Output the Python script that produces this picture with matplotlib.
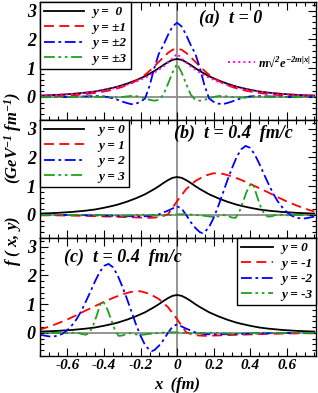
import numpy as np
import matplotlib
matplotlib.use("Agg")
import matplotlib.pyplot as plt
from matplotlib.ticker import MultipleLocator

plt.rcParams['font.family'] = ['Liberation Serif', 'DejaVu Serif']
plt.rcParams['font.style'] = 'italic'
plt.rcParams['font.weight'] = 'bold'
plt.rcParams['mathtext.fontset'] = 'custom'
plt.rcParams['mathtext.rm'] = 'Liberation Serif:italic:bold'
plt.rcParams['mathtext.it'] = 'Liberation Serif:italic:bold'
plt.rcParams['mathtext.bf'] = 'Liberation Serif:italic:bold'

# ---- panel (a), t = 0 : curves are even in x, values for x >= 0 ----
x_half = [0, 0.025, 0.05, 0.075, 0.1, 0.125, 0.15, 0.175, 0.2, 0.225, 0.25,
          0.275, 0.3, 0.325, 0.35, 0.375, 0.4, 0.425, 0.45, 0.475, 0.5,
          0.525, 0.55, 0.575, 0.6, 0.625, 0.65, 0.675, 0.7, 0.725, 0.75]
y0_half = [1.32, 1.29, 1.21, 1.11, 1.00, 0.90, 0.81, 0.72, 0.65, 0.58, 0.52,
           0.46, 0.41, 0.36, 0.32, 0.285, 0.25, 0.22, 0.19, 0.17, 0.15,
           0.135, 0.12, 0.105, 0.095, 0.085, 0.075, 0.068, 0.06, 0.055, 0.05]
y1_half = [1.68, 1.64, 1.53, 1.38, 1.22, 1.06, 0.91, 0.77, 0.65, 0.56, 0.48,
           0.41, 0.35, 0.30, 0.26, 0.22, 0.19, 0.165, 0.14, 0.12, 0.10,
           0.085, 0.07, 0.06, 0.05, 0.04, 0.035, 0.03, 0.025, 0.02, 0.018]
y2_half = [2.58, 2.45, 2.15, 1.80, 1.50, 1.00, 0.40, -0.05, -0.17, -0.23, -0.25,
           -0.21, -0.16, -0.10, -0.05, -0.01, 0.02, 0.03, 0.03, 0.025, 0.02,
           0.015, 0.01, 0.005, 0.0, -0.005, -0.005, 0.0, 0.0, 0.0, 0.0]
y3_half = [1.15, 0.85, 0.45, 0.08, -0.10, -0.13, -0.10, -0.05, 0.0, 0.03, 0.035,
           0.02, 0.0, -0.015, -0.02, -0.015, -0.005, 0.005, 0.01, 0.008, 0.0,
           -0.005, -0.005, 0.0, 0.0, 0.0, 0.0, 0.0, 0.0, 0.0, 0.0]
exp_half = [1.50, 1.34, 1.19, 1.06, 0.95, 0.84, 0.75, 0.67, 0.60, 0.53, 0.475,
            0.42, 0.38, 0.34, 0.30, 0.27, 0.24, 0.213, 0.19, 0.17, 0.15,
            0.134, 0.12, 0.107, 0.095, 0.085, 0.076, 0.067, 0.06, 0.053, 0.048]

# ---- panel (b), t = 0.4 fm/c, y = 1, 2, 3 (panel (c) is its mirror x -> -x) ----
xb_red = [-0.75, -0.7, -0.65, -0.6, -0.55, -0.5, -0.45, -0.4, -0.35, -0.3, -0.25,
          -0.2, -0.15, -0.1, -0.05, 0.0, 0.05, 0.1, 0.15, 0.2, 0.25, 0.3, 0.35,
          0.4, 0.45, 0.5, 0.55, 0.6, 0.65, 0.7, 0.75]
b_red = [-0.01, -0.01, -0.015, -0.02, -0.025, -0.03, -0.04, -0.05, -0.06, -0.07, -0.08,
         -0.09, -0.10, -0.08, 0.02, 0.48, 0.90, 1.18, 1.36, 1.45, 1.43, 1.34, 1.22,
         1.08, 0.93, 0.78, 0.62, 0.47, 0.34, 0.22, 0.12]
xb_blue = [-0.75, -0.6, -0.5, -0.4, -0.3, -0.2, -0.15, -0.1, -0.05, 0.0, 0.025,
           0.05, 0.075, 0.1, 0.125, 0.14, 0.15, 0.175, 0.2, 0.225, 0.25, 0.275,
           0.3, 0.325, 0.35, 0.375, 0.4, 0.425, 0.45, 0.475, 0.5, 0.525, 0.55,
           0.575, 0.6, 0.625, 0.65, 0.675, 0.7, 0.725, 0.75]
b_blue = [0.0, 0.0, -0.01, -0.02, -0.04, -0.05, -0.04, 0.02, 0.15, 0.30, 0.22,
          0.0, -0.25, -0.45, -0.60, -0.63, -0.60, -0.42, -0.10, 0.30, 0.75, 1.20,
          1.62, 2.00, 2.28, 2.40, 2.33, 2.10, 1.78, 1.42, 1.08, 0.75, 0.48,
          0.27, 0.10, -0.02, -0.09, -0.12, -0.12, -0.09, -0.06]
xb_green = [-0.75, -0.6, -0.5, -0.4, -0.35, -0.3, -0.25, -0.2, -0.15, -0.1, -0.05,
            0.0, 0.05, 0.1, 0.15, 0.2, 0.225, 0.25, 0.275, 0.3, 0.32, 0.34, 0.36,
            0.38, 0.4, 0.41, 0.42, 0.44, 0.46, 0.48, 0.5, 0.52, 0.55, 0.6, 0.65,
            0.7, 0.75]
b_green = [0.0, 0.0, 0.01, 0.0, -0.02, -0.03, -0.01, 0.01, 0.0, -0.02, -0.01,
           0.02, 0.03, 0.0, -0.03, -0.07, -0.05, 0.0, -0.03, -0.09, -0.10, 0.10, 0.45,
           0.80, 1.05, 1.10, 1.00, 0.60, 0.25, 0.0, -0.06, -0.04, 0.02, -0.01, 0.0,
           0.0, 0.0]

legend_a = ['y =  0', 'y = \u00b11', 'y = \u00b12', 'y = \u00b13']
legend_b = ['y = 0', 'y = 1', 'y = 2', 'y = 3']
legend_c = ['y = 0', 'y = -1', 'y = -2', 'y = -3']

colors = ['black', '#ff0000', '#0000ff', '#1fa01f']
styles = ['-', (0, (5.5, 3)), (0, (6, 2, 1.5, 2)), (0, (6, 2, 1.5, 2, 1.5, 2))]
lw = 1.3

xh = np.array(x_half)
def sym(v):
    v = np.array(v)
    return np.concatenate([v[:0:-1], v])
x_a = np.concatenate([-xh[:0:-1], xh])

W, H = 318, 393
fig = plt.figure(figsize=(W / 100, H / 100), dpi=100)
left, right = 40 / W, 316 / W
ph = 118 / H
axes = [fig.add_axes([left, 1 - (2 + 118 * (i + 1)) / H, right - left, ph]) for i in range(3)]

for ax in axes:
    ax.set_xlim(-0.75, 0.76)
    ax.set_ylim(-0.8, 3.3)
    ax.axvline(0, color='#8c8c8c', lw=1.3, zorder=0)
    ax.axhline(0, color='#8c8c8c', lw=1.3, zorder=0)
    ax.xaxis.set_major_locator(MultipleLocator(0.2))
    ax.xaxis.set_minor_locator(MultipleLocator(0.05))
    ax.yaxis.set_major_locator(MultipleLocator(1))
    ax.yaxis.set_minor_locator(MultipleLocator(0.2))
    ax.tick_params(which='both', direction='in', top=True, right=True, width=0.8)
    ax.tick_params(which='major', length=6)
    ax.tick_params(which='minor', length=3)
    ax.tick_params(axis='y', labelsize=13, pad=3)
    ax.tick_params(axis='x', labelsize=11, pad=2)
    for s in ax.spines.values():
        s.set_linewidth(1.0)
    ax.set_yticks([0, 1, 2, 3])
    ax.set_yticklabels(['0', '1', '2', '3'])

axes[0].tick_params(labelbottom=False)
axes[1].tick_params(labelbottom=False)
axes[2].set_xticks([-0.6, -0.4, -0.2, 0, 0.2, 0.4, 0.6])
axes[2].set_xticklabels(['-0.6', '-0.4', '-0.2', '0', '0.2', '0.4', '0.6'])

leg_kw = dict(borderaxespad=0, fontsize=9.5, fancybox=False, edgecolor='black',
              framealpha=1, labelspacing=0.25, borderpad=0.3)

# panel (a)
ax = axes[0]
curves_a = [y0_half, y1_half, y2_half, y3_half]
handles = []
for c, ls, vals, lab in zip(colors, styles, curves_a, legend_a):
    h, = ax.plot(x_a, sym(vals), color=c, ls=ls, lw=lw, label=lab)
    handles.append(h)
hm, = ax.plot(x_a, sym(exp_half), color='#ff00ff', ls=':', lw=1.4,
              label='m\u221a$^{2}$e$^{-2m|x|}$')
leg = ax.legend(handles=handles, loc='upper left', handlelength=3.0,
                handletextpad=0.7, **leg_kw)
leg.get_frame().set_linewidth(1.0)
ax.add_artist(leg)
ax.legend(handles=[hm], loc='center right', bbox_to_anchor=(1.0, 0.49), frameon=False,
          fontsize=9, handlelength=2.2, handletextpad=0.2, borderaxespad=0)
ax.text(0.69, 0.865, '(a)  t = 0', transform=ax.transAxes, ha='center', va='center', fontsize=13)

# panel (b)
ax = axes[1]
x_black = x_a
y_black = sym(y0_half)
handles = []
for c, ls, xs, vals, lab in zip(colors, styles, [x_black, xb_red, xb_blue, xb_green],
                                [y_black, b_red, b_blue, b_green], legend_b):
    h, = ax.plot(xs, vals, color=c, ls=ls, lw=lw, label=lab)
    handles.append(h)
leg = ax.legend(handles=handles, loc='upper left', handlelength=3.0,
                handletextpad=1.1, **leg_kw)
leg.get_frame().set_linewidth(1.0)
ax.text(0.7, 0.89, '(b)  t = 0.4  fm/c', transform=ax.transAxes, ha='center', va='center', fontsize=13)

# panel (c)
ax = axes[2]
handles = []
for c, ls, xs, vals, lab in zip(colors, styles, [x_black, xb_red, xb_blue, xb_green],
                                [y_black, b_red, b_blue, b_green], legend_c):
    h, = ax.plot(-np.array(xs), vals, color=c, ls=ls, lw=lw, label=lab)
    handles.append(h)
leg = ax.legend(handles=handles, loc='upper right', handlelength=2.4,
                handletextpad=0.6, **leg_kw)
leg.get_frame().set_linewidth(1.0)
ax.text(0.3, 0.84, '(c)  t = 0.4  fm/c', transform=ax.transAxes, ha='center', va='center', fontsize=13)

fig.text(0.04, 0.545, 'f ( x, y)        (GeV$^{-1}$ fm$^{-1}$)', rotation=90,
         ha='center', va='center', fontsize=12)
fig.text(177 / W, 1 - 385 / H, 'x  (fm)', ha='center', va='center', fontsize=12)

fig.savefig('out.png', dpi=100)
